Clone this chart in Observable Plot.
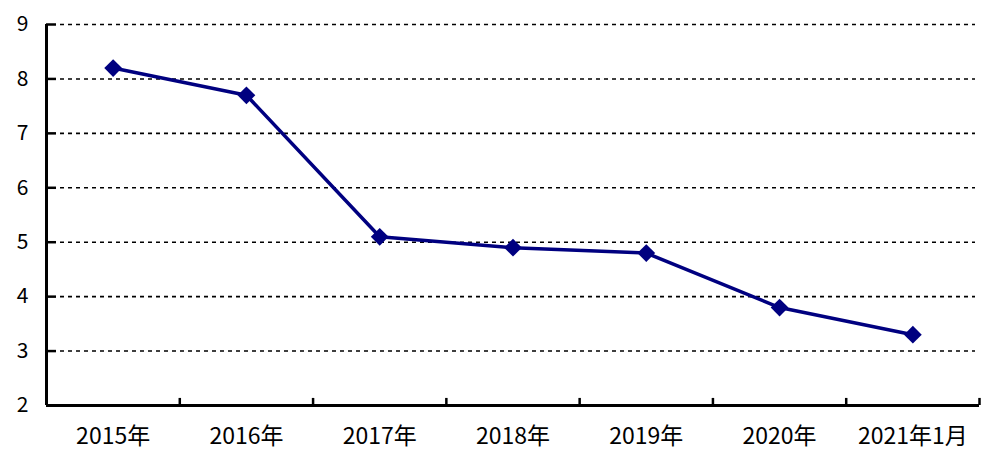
<!DOCTYPE html>
<html>
<head>
<meta charset="utf-8">
<script src="https://cdn.jsdelivr.net/npm/d3@7"></script>
<script src="https://cdn.jsdelivr.net/npm/@observablehq/plot@0.6"></script>
<style>
  html, body { margin: 0; padding: 0; background: #fff; }
  #chart svg { display: block; }
</style>
</head>
<body>
<div id="chart"></div>
<script>
const categories = ["2015年", "2016年", "2017年", "2018年", "2019年", "2020年", "2021年1月"];
const values = [8.2, 7.7, 5.1, 4.9, 4.8, 3.8, 3.3];
const yTicks = [2, 3, 4, 5, 6, 7, 8, 9];

const data = categories.map((c, i) => ({pos: i + 0.5, label: c, value: values[i]}));
const labelPositions = categories.map((c, i) => i + 0.5);
const boundaries = d3.range(0, categories.length + 1);

const font = "'Noto Sans CJK SC', 'DejaVu Sans', sans-serif";
const W = 1000, ML = 46, MR = 21;
const plotW = W - ML - MR;

const chart = Plot.plot({
  width: W,
  height: 475,
  marginLeft: ML,
  marginRight: MR,
  marginTop: 24,
  marginBottom: 70,
  style: {fontFamily: font, background: "#fff", color: "#000"},
  x: {type: "linear", domain: [0, categories.length]},
  y: {domain: [2, 9]},
  marks: [
    // dashed gridlines
    Plot.ruleY(yTicks.filter(d => d > 2), {stroke: "#000", strokeWidth: 1.6, strokeDasharray: "4,4", insetLeft: 14, insetRight: 4}),
    // inward y ticks
    Plot.ruleY(yTicks, {stroke: "#000", strokeWidth: 2.5, insetRight: plotW - 10}),
    // y axis labels
    Plot.axisY({
      ticks: yTicks,
      tickSize: 0,
      tickPadding: 18,
      tickFormat: d => String(d),
      fontSize: 21,
      label: null
    }),
    // x axis boundary ticks (upward)
    Plot.ruleX(boundaries.slice(1), {y1: 2, y2: 2.13, stroke: "#000", strokeWidth: 2.5}),
    // x axis category labels
    Plot.axisX({
      ticks: labelPositions,
      tickSize: 0,
      tickPadding: 22,
      tickFormat: (d) => categories[Math.round(d - 0.5)],
      fontSize: 23,
      label: null
    }),
    // frame lines
    Plot.ruleX([0], {stroke: "#000", strokeWidth: 3}),
    Plot.ruleY([2], {stroke: "#000", strokeWidth: 3}),
    // data line
    Plot.line(data, {x: "pos", y: "value", stroke: "#000080", strokeWidth: 3.5}),
    Plot.dot(data, {x: "pos", y: "value", symbol: "diamond2", r: 8, fill: "#000080", stroke: "none"})
  ]
});

document.getElementById("chart").appendChild(chart);
</script>
</body>
</html>
